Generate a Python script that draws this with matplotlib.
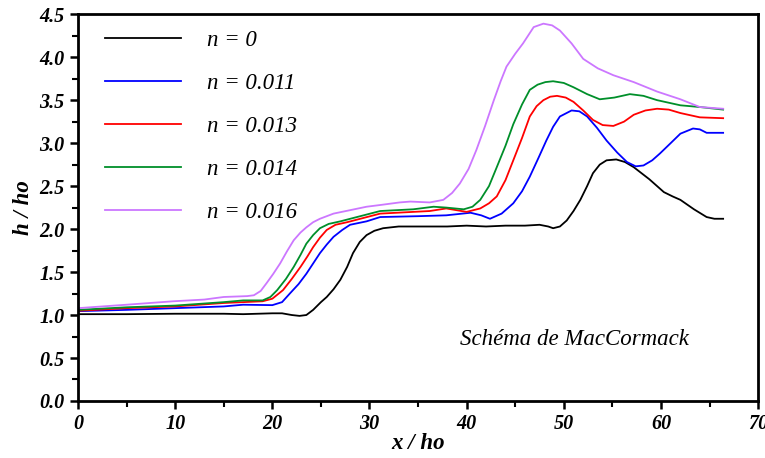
import matplotlib
matplotlib.use("Agg")
import matplotlib.pyplot as plt
from matplotlib.ticker import MultipleLocator

# values
x_n0 = [0, 5, 10, 15, 17, 20, 21, 22, 22.8, 23.5, 24.2, 25, 25.6, 26.3, 27, 27.7, 28.3, 29, 29.7, 30.5,
        31.4, 33, 36, 38, 40, 42, 44, 46, 47.5, 48.4, 48.9, 49.6, 50.3, 51, 51.7, 52.4, 53, 53.7, 54.4,
        55.4, 56.3, 57.2, 58.8, 60.3, 61.2, 62, 63.4, 64.7, 65.5, 66.4]
h_n0 = [1.01, 1.01, 1.015, 1.015, 1.01, 1.02, 1.02, 1.0, 0.99, 1.0, 1.06, 1.15, 1.21, 1.30, 1.41, 1.56,
        1.72, 1.85, 1.93, 1.98, 2.01, 2.03, 2.03, 2.03, 2.04, 2.03, 2.04, 2.04, 2.05, 2.03, 2.01, 2.03,
        2.10, 2.21, 2.34, 2.50, 2.65, 2.75, 2.80, 2.81, 2.78, 2.72, 2.58, 2.43, 2.38, 2.34, 2.23, 2.14,
        2.12, 2.12]

x_n011 = [0, 5, 10, 15, 17, 20, 21, 21.8, 22.7, 23.5, 24.2, 24.9, 25.6, 26.3, 27.2, 28, 29.7, 31.1, 35,
          37.9, 40.4, 41.5, 42.4, 43.6, 44.8, 45.7, 46.5, 47.4, 48.2, 48.9, 49.6, 50.8, 51.6, 52.4, 53.4,
          54.4, 55.5, 56.5, 57.4, 58.2, 59.1, 59.9, 61, 62, 63.3, 64, 64.7, 66.4]
h_n011 = [1.045, 1.06, 1.08, 1.10, 1.12, 1.115, 1.15, 1.25, 1.36, 1.48, 1.60, 1.72, 1.82, 1.91, 1.99,
          2.05, 2.09, 2.14, 2.15, 2.16, 2.19, 2.16, 2.12, 2.18, 2.30, 2.44, 2.61, 2.83, 3.03, 3.19, 3.31,
          3.38, 3.37, 3.31, 3.18, 3.03, 2.89, 2.78, 2.73, 2.74, 2.80, 2.88, 3.00, 3.11, 3.17, 3.16, 3.12,
          3.12]

x_n013 = [0, 5, 10, 15, 17, 19, 20, 21.1, 22, 22.9, 23.6, 24.2, 24.9, 25.6, 26.5, 27.7, 31.1, 36.2,
          37.9, 40, 41.4, 42.3, 43.1, 44, 44.8, 45.7, 46.5, 47.2, 47.9, 48.6, 49.3, 50.2, 51, 52, 53, 54,
          55.1, 56.2, 57.2, 58.4, 59.6, 60.8, 62, 64, 66.4]
h_n013 = [1.05, 1.08, 1.10, 1.14, 1.15, 1.16, 1.19, 1.29, 1.42, 1.56, 1.68, 1.79, 1.90, 1.99, 2.05,
          2.08, 2.18, 2.21, 2.24, 2.20, 2.24, 2.30, 2.38, 2.57, 2.80, 3.06, 3.31, 3.43, 3.50, 3.54, 3.55,
          3.53, 3.48, 3.38, 3.27, 3.21, 3.20, 3.25, 3.33, 3.38, 3.40, 3.39, 3.35, 3.30, 3.29]

x_n014 = [0, 5, 10, 15, 17, 19, 19.8, 20.5, 21.4, 22.2, 22.9, 23.5, 24.2, 24.9, 25.8, 27, 31.1, 34.5,
          36.6, 37.9, 39.7, 40.6, 41.4, 42.3, 43.1, 44, 44.8, 45.7, 46.5, 47.3, 48.1, 48.9, 50, 51, 52.4,
          53.7, 55.2, 56.8, 58.2, 59.6, 62, 64, 66.4]
h_n014 = [1.06, 1.09, 1.11, 1.15, 1.17, 1.17, 1.21, 1.29, 1.42, 1.56, 1.70, 1.83, 1.93, 2.01, 2.06,
          2.09, 2.21, 2.23, 2.26, 2.25, 2.23, 2.26, 2.34, 2.50, 2.72, 2.97, 3.22, 3.45, 3.62, 3.68, 3.71,
          3.72, 3.70, 3.65, 3.57, 3.51, 3.53, 3.57, 3.55, 3.50, 3.44, 3.42, 3.39]

x_n016 = [0, 5, 9.8, 13, 15, 17.4, 18.1, 18.8, 19.4, 20.1, 20.8, 21.5, 22.2, 22.9, 23.5, 24.2, 24.9,
          26.3, 29.7, 31.1, 33.1, 34.2, 36.2, 37.6, 38.5, 39.3, 40.2, 41, 41.9, 42.8, 43.5, 44.1, 45,
          45.8, 46.9, 47.9, 48.8, 49.6, 50.8, 52, 53.5, 55.1, 57.2, 59.6, 62, 64, 66.4]
h_n016 = [1.08, 1.12, 1.16, 1.18, 1.21, 1.22, 1.23, 1.28, 1.37, 1.48, 1.60, 1.74, 1.87, 1.96, 2.02,
          2.08, 2.12, 2.18, 2.26, 2.28, 2.31, 2.32, 2.31, 2.34, 2.42, 2.53, 2.70, 2.92, 3.20, 3.50, 3.72,
          3.89, 4.04, 4.16, 4.35, 4.39, 4.37, 4.31, 4.16, 3.98, 3.87, 3.79, 3.71, 3.60, 3.51, 3.42, 3.40]

series = [
    ("n = 0", x_n0, h_n0, "black"),
    ("n = 0.011", x_n011, h_n011, "#0000ff"),
    ("n = 0.013", x_n013, h_n013, "#ff0000"),
    ("n = 0.014", x_n014, h_n014, "#008f2a"),
    ("n = 0.016", x_n016, h_n016, "#cc77ff"),
]

plt.rcParams["font.family"] = ["Liberation Serif", "DejaVu Serif"]

fig = plt.figure(figsize=(7.65, 4.58), dpi=100)
ax = fig.add_axes([0.102, 0.1245, 0.889, 0.8445])

for label, xs, hs, color in series:
    ax.plot(xs, hs, color=color, lw=1.3, label=label)

ax.set_xlim(0, 70)
ax.set_ylim(0, 4.5)
ax.xaxis.set_major_locator(MultipleLocator(10))
ax.xaxis.set_minor_locator(MultipleLocator(5))
ax.yaxis.set_major_locator(MultipleLocator(0.5))
ax.yaxis.set_minor_locator(MultipleLocator(0.25))
ax.yaxis.set_major_formatter(plt.FuncFormatter(lambda v, p: f"{v:.1f}"))
ax.tick_params(which="major", direction="out", length=6, width=1.8, labelsize=14.5)
ax.tick_params(which="minor", direction="out", length=4, width=1.5)
for t in ax.get_xticklabels() + ax.get_yticklabels():
    t.set_fontweight("bold")
    t.set_fontstyle("italic")
for s in ax.spines.values():
    s.set_linewidth(2)

ax.set_xlabel("x / ho", fontsize=16.5, fontweight="bold", fontstyle="italic", labelpad=-1)
ax.set_ylabel("h / ho", fontsize=16.5, fontweight="bold", fontstyle="italic", labelpad=4)

leg = ax.legend(loc="upper left", bbox_to_anchor=(0.01, 1.012), frameon=False,
                prop={"size": 16.5, "style": "italic"}, handlelength=3.3,
                handletextpad=1.15, labelspacing=0.96)

ax.text(0.73, 0.16, "Schéma de MacCormack", transform=ax.transAxes, ha="center",
        va="center", fontsize=16.5, fontstyle="italic")

fig.savefig("out.png", dpi=100)
